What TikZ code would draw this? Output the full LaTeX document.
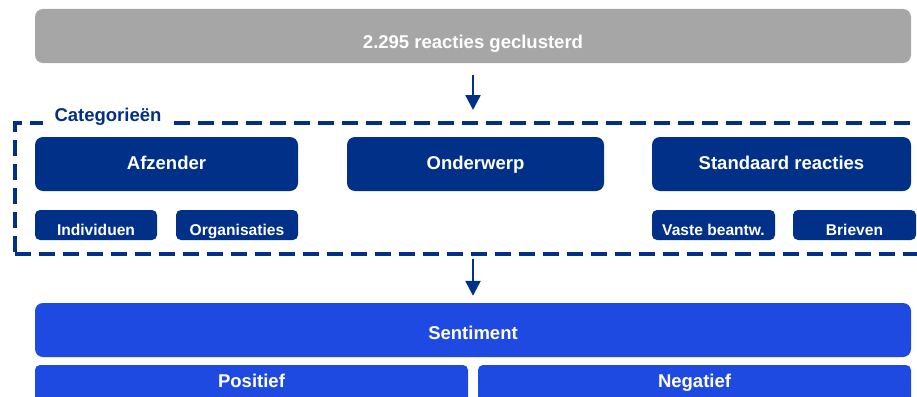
\documentclass[tikz,border=0pt]{standalone}
\usepackage{fontspec}
\setmainfont{Liberation Sans}
\usepackage{xcolor}
\usetikzlibrary{arrows.meta, positioning}
\definecolor{darkblue}{HTML}{003087}
\definecolor{brightblue}{HTML}{1F4AE1}
\definecolor{clustergray}{HTML}{A6A6A6}

\begin{document}
\begin{tikzpicture}[
  x=1pt, y=-1pt,
  bigfont/.style={font=\fontsize{18.5}{20}\selectfont\bfseries},
  smallfont/.style={font=\fontsize{15.6}{17}\selectfont\bfseries},
  topbox/.style={fill=clustergray, rounded corners=8pt, text=white, bigfont, inner sep=0pt,
    minimum width=876pt, minimum height=54pt, text height=25.9pt, text depth=0pt},
  catbox/.style={fill=darkblue, rounded corners=8pt, text=white, bigfont, inner sep=0pt,
    minimum width=260pt, minimum height=54pt, text height=12.9pt, text depth=1pt},
  subbox/.style={fill=darkblue, rounded corners=5pt, text=white, smallfont, inner sep=0pt,
    minimum width=122pt, minimum height=30pt, text height=20.1pt, text depth=0pt},
  sentbox/.style={fill=brightblue, rounded corners=8pt, text=white, bigfont, inner sep=0pt,
    minimum width=876pt, minimum height=54pt, text height=18.9pt, text depth=0pt},
  polbox/.style={fill=brightblue, rounded corners=5pt, text=white, bigfont, inner sep=0pt,
    minimum width=433pt, minimum height=40pt, text height=12.9pt, text depth=8pt},
  frame/.style={draw=darkblue, line width=4pt, dash pattern=on 16pt off 8pt, inner sep=0pt,
    minimum width=910pt, minimum height=131pt},
  flow/.style={draw=darkblue, line width=2.5pt, -{Triangle[width=15pt,length=15pt]}}
]
\useasboundingbox (0,0) rectangle (917,396);

% Clustered reactions
\node[topbox] (clustered) at (473,36) {2.295 reacties geclusterd};

% Categories frame
\node[frame] (frame) at (470,188.5) {};
\node[fill=white, text=darkblue, bigfont, inner xsep=12pt, inner ysep=3pt, anchor=base]
  (catlabel) at ([xshift=95pt]frame.north west) {Categorieën};

\node[catbox, minimum width=263pt] (afzender) at (166.5,164) {Afzender};
\node[catbox, minimum width=257pt] (onderwerp) at (475.5,164) {Onderwerp};
\node[catbox, minimum width=259pt] (standaard) at (781.5,164) {Standaard reacties};

\node[subbox] (individuen) at (96,225) {Individuen};
\node[subbox] (organisaties) at (237,225) {Organisaties};
\node[subbox, minimum width=123pt] (vaste) at (713.5,225) {Vaste beantw.};
\node[subbox, minimum width=123pt] (brieven) at (854.5,225) {Brieven};

% Sentiment
\node[sentbox] (sentiment) at (473,330) {Sentiment};
\node[polbox] (positief) at (251.5,385) {Positief};
\node[polbox] (negatief) at (694.5,385) {Negatief};

% Arrows
\draw[flow, shorten <=12pt, shorten >=11pt] (clustered.south) -- (clustered.south |- frame.north);
\draw[flow, shorten <=3pt, shorten >=7pt] (sentiment.north |- frame.south) -- (sentiment.north);
\end{tikzpicture}
\end{document}
